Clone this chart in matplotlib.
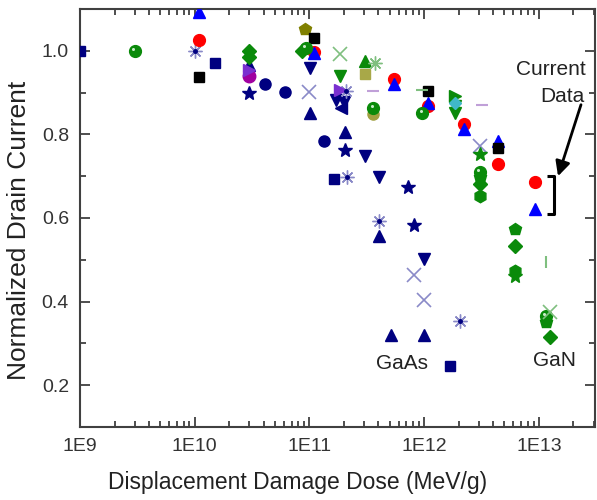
import matplotlib

matplotlib.use("Agg")
import matplotlib.pyplot as plt
from matplotlib.ticker import FixedLocator, LogLocator, NullFormatter
from matplotlib.transforms import offset_copy

plt.rcParams["font.family"] = ["Liberation Sans", "DejaVu Sans"]

# ---- GaAs devices (navy family) ----
navy_sq_x = [1e9, 1.5e10, 1.63e11, 1.68e12]
navy_sq_y = [1.0, 0.972, 0.693, 0.246]
navy_circ_x = [4.08e10, 6.1e10, 1.33e11]
navy_circ_y = [0.921, 0.901, 0.784]
navy_up_x = [3e10, 1.02e11, 2.03e11, 4.06e11, 5.16e11, 1e12]
navy_up_y = [0.965, 0.852, 0.805, 0.556, 0.32, 0.32]
navy_down_x = [1.02e11, 1.72e11, 2.0e11, 3.07e11, 4.06e11, 1e12]
navy_down_y = [0.959, 0.882, 0.878, 0.748, 0.699, 0.501]
navy_left_x = [1.9e11]
navy_left_y = [0.862]
navy_star_x = [3e10, 2.03e11, 7.2e11, 8.2e11]
navy_star_y = [0.90, 0.762, 0.673, 0.583]
slate_x_x = [1e11, 8.2e11, 1e12, 3.09e12]
slate_x_y = [0.901, 0.464, 0.405, 0.772]
slate_ast_x = [1e10, 2.1e11, 2.12e11, 4.06e11, 2.06e12]
slate_ast_y = [1.0, 0.905, 0.699, 0.594, 0.353]

# ---- GaN devices ----
red_x = [1.09e10, 1.1e11, 5.5e11, 1.09e12, 2.23e12, 4.43e12, 9.3e12]
red_y = [1.026, 0.998, 0.933, 0.867, 0.824, 0.730, 0.685]
blue_x = [1.09e10, 1.1e11, 5.5e11, 1.09e12, 2.23e12, 4.43e12, 9.3e12]
blue_y = [1.093, 0.995, 0.921, 0.875, 0.812, 0.784, 0.621]
black_x = [1.09e10, 1.1e11, 1.09e12, 4.43e12]
black_y = [0.938, 1.03, 0.903, 0.768]
gdiam_x = [3e10, 3e10, 8.6e10, 3.06e12, 6.18e12, 1.26e13]
gdiam_y = [1.0, 0.986, 1.0, 0.681, 0.533, 0.316]
gsph_x = [3e9, 9.3e10, 3.6e11, 9.67e11, 3.06e12, 1.15e13]
gsph_y = [1.0, 1.006, 0.864, 0.852, 0.709, 0.366]
gpent_x = [3.06e12, 6.18e12, 1.15e13]
gpent_y = [0.697, 0.574, 0.352]
ghex_x = [3.06e12, 6.18e12]
ghex_y = [0.653, 0.474]
gstar_x = [3.06e12, 6.18e12]
gstar_y = [0.752, 0.461]
gdown_x = [1.86e11, 1.84e12, 1.84e12]
gdown_y = [0.939, 0.868, 0.852]
gup_x = [3.07e11]
gup_y = [0.975]
gright_x = [1.84e12]
gright_y = [0.893]
lgx_x = [1.86e11, 1.26e13]
lgx_y = [0.993, 0.375]
lgast_x = [3.75e11]
lgast_y = [0.971]
olive_pent_x = [9.1e10]
olive_pent_y = [1.052]
olive_sq_x = [3.07e11]
olive_sq_y = [0.945]
olive_circ_x = [3.6e11]
olive_circ_y = [0.848]
purple_x = [3e10, 1.83e11]
purple_y = [0.955, 0.907]
magenta_x = [3e10]
magenta_y = [0.94]
lav_dash_x = [3.6e11, 3.17e12]
lav_dash_y = [0.903, 0.871]
lg_dash_x = [9.5e11]
lg_dash_y = [0.907]
lg_vbar_x = [1.15e13]
lg_vbar_y = [0.494]
teal_x = [1.84e12]
teal_y = [0.875]

# bracket marking the current-work data and the arrow pointing at it
bracket_x = [1.18e13, 1.36e13]
bracket_y = [0.610, 0.700]
arrow_tail = (2.33e13, 0.871)
arrow_head = (1.47e13, 0.700)

xticks = [1e9, 1e10, 1e11, 1e12, 1e13]
xticklabels = ["1E9", "1E10", "1E11", "1E12", "1E13"]
yticks = [0.2, 0.4, 0.6, 0.8, 1.0]
yticklabels = ["0.2", "0.4", "0.6", "0.8", "1.0"]

NAVY = "#000080"
GREEN = "#0a8a0a"
SLATE = "#8a8ac8"
LGREEN = "#7fbf7f"

fig = plt.figure(figsize=(5.97, 5.0), dpi=100)
ax = fig.add_axes([0.134, 0.146, 0.863, 0.836])


def pts(x, y, marker, color, ms=8, mew=1.0, z=3, **kw):
    ax.plot(x, y, linestyle="none", marker=marker, color=color, ms=ms,
            mew=mew, mfc=color, mec=color, zorder=z, **kw)


def spheres(x, y, color, ms=8.5):
    # filled disc plus a small off-centre highlight
    pts(x, y, "o", color, ms=ms)
    shifted = offset_copy(ax.transData, fig=fig, x=-1.2, y=1.4, units="points")
    ax.plot(x, y, linestyle="none", marker="o", ms=2.2, color="#c8ecc8",
            mew=0, zorder=3.1, transform=shifted)


# GaAs
pts(navy_sq_x, navy_sq_y, "s", NAVY, ms=7)
pts(navy_circ_x, navy_circ_y, "o", NAVY, ms=8)
pts(navy_up_x, navy_up_y, "^", NAVY, ms=9)
pts(navy_down_x, navy_down_y, "v", NAVY, ms=9)
pts(navy_left_x, navy_left_y, "<", NAVY, ms=9)
pts(navy_star_x, navy_star_y, "*", NAVY, ms=10)
pts(slate_x_x, slate_x_y, "x", SLATE, ms=10, mew=1.2)
pts(slate_ast_x, slate_ast_y, (8, 2, 0), SLATE, ms=10, mew=1.0)
pts(slate_ast_x, slate_ast_y, "o", NAVY, ms=2.5, z=3.2)

# GaN
pts(olive_pent_x, olive_pent_y, "p", "#808000", ms=9)
pts(olive_sq_x, olive_sq_y, "s", "#a8a848", ms=7)
pts(olive_circ_x, olive_circ_y, "o", "#a0a040", ms=8)
pts(magenta_x, magenta_y, "o", "#a000a0", ms=9)
pts(purple_x, purple_y, ">", "#7a30d0", ms=9)
pts(red_x, red_y, "o", "#ff0000", ms=8.5)
pts(blue_x, blue_y, "^", "#0000ff", ms=9)
pts(black_x, black_y, "s", "#000000", ms=7)
pts(gdiam_x, gdiam_y, "D", GREEN, ms=7.5)
pts(gpent_x, gpent_y, "p", GREEN, ms=9)
pts(ghex_x, ghex_y, "h", GREEN, ms=9)
pts(gstar_x, gstar_y, "*", GREEN, ms=10)
spheres(gsph_x, gsph_y, GREEN)
pts(gdown_x, gdown_y, "v", GREEN, ms=9)
pts(gup_x, gup_y, "^", GREEN, ms=9)
pts(gright_x, gright_y, ">", GREEN, ms=9)
pts(teal_x, teal_y, "D", "#40b8c8", ms=6)
pts(lgx_x, lgx_y, "x", LGREEN, ms=10, mew=1.2)
pts(lgast_x, lgast_y, (8, 2, 0), LGREEN, ms=10, mew=1.0)
pts(lav_dash_x, lav_dash_y, "_", "#c0a0d8", ms=9, mew=1.5)
pts(lg_dash_x, lg_dash_y, "_", LGREEN, ms=9, mew=1.5)
pts(lg_vbar_x, lg_vbar_y, "|", LGREEN, ms=9, mew=1.5)

# bracket and arrow
ax.plot([bracket_x[0], bracket_x[1], bracket_x[1], bracket_x[0]],
        [bracket_y[1], bracket_y[1], bracket_y[0], bracket_y[0]],
        color="black", lw=2.2, solid_capstyle="butt", zorder=4)
ax.annotate("", xy=arrow_head, xytext=arrow_tail,
            arrowprops=dict(arrowstyle="-|>", color="black", lw=2,
                            mutation_scale=22, shrinkA=0, shrinkB=0))
ax.text(2.58e13, 0.955, "Current", fontsize=15, ha="right", va="center", color="#222222")
ax.text(2.5e13, 0.890, "Data", fontsize=15, ha="right", va="center", color="#222222")
ax.text(6.35e11, 0.252, "GaAs", fontsize=15, ha="center", va="center", color="#222222")
ax.text(1.36e13, 0.260, "GaN", fontsize=15, ha="center", va="center", color="#222222")

ax.set_xscale("log")
ax.set_xlim(1e9, 3.1e13)
ax.set_ylim(0.1, 1.1)
ax.xaxis.set_major_locator(FixedLocator(xticks))
ax.set_xticklabels(xticklabels)
ax.xaxis.set_minor_locator(LogLocator(base=10, subs=range(2, 10), numticks=20))
ax.xaxis.set_minor_formatter(NullFormatter())
ax.set_yticks(yticks)
ax.set_yticklabels(yticklabels)
ax.yaxis.set_minor_locator(FixedLocator([0.1, 0.3, 0.5, 0.7, 0.9]))

ax.tick_params(which="both", direction="in", top=True, right=True,
               color="#404040", width=1.3, labelsize=14, labelcolor="#333333", pad=8)
ax.tick_params(which="major", length=7)
ax.tick_params(which="minor", length=4)
for sp in ax.spines.values():
    sp.set_color("#404040")
    sp.set_linewidth(1.5)

ax.set_xlabel("Displacement Damage Dose (MeV/g)", fontsize=16.5, color="#222222")
ax.xaxis.set_label_coords(0.423, -0.105)
ax.set_ylabel("Normalized Drain Current", fontsize=19, color="#222222")
ax.yaxis.set_label_coords(-0.095, 0.47)

fig.savefig("out.png", dpi=100)
